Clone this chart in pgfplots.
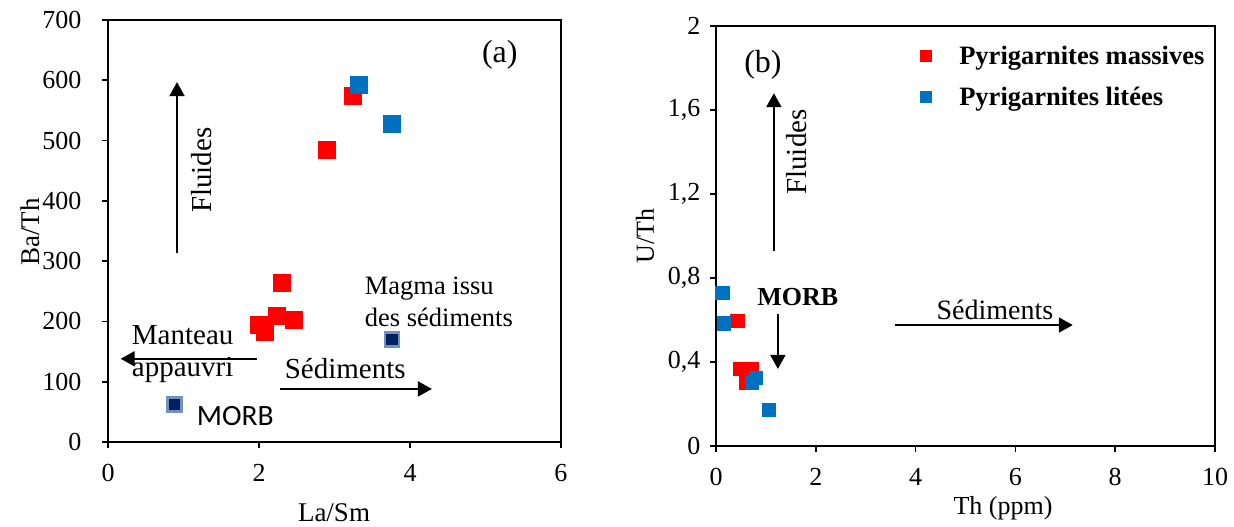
\documentclass[border=0pt]{standalone}
\usepackage{fontspec}
\setmainfont{Liberation Serif}
\newfontfamily\carlito{Carlito}
\usepackage{pgfplots}
\pgfplotsset{compat=1.18}
\usetikzlibrary{arrows.meta}

\definecolor{mred}{RGB}{255,0,0}
\definecolor{mblue}{RGB}{0,112,192}
\definecolor{navy}{RGB}{0,32,96}
\definecolor{navyedge}{RGB}{115,145,190}

\pgfplotsset{
  mystyle/.style={
    scale only axis, clip=false,
    tick align=outside, tick pos=left,
    major tick length=6pt,
    axis line style={line width=2.2pt},
    every tick/.style={black,line width=1.6pt},
    tick label style={font=\fontsize{26}{30}\selectfont},
    /pgf/number format/assume math mode=true,
    xticklabel style={yshift=-13pt},
    yticklabel style={xshift=-6pt},
  },
}
\tikzset{
  annot/.style={font=\fontsize{29}{34}\selectfont},
  arr/.style={line width=2pt,-{Triangle[width=15pt,length=14pt]}},
}

\begin{document}
\begin{tikzpicture}
\useasboundingbox (0,0) rectangle (1234pt,527pt);

% ---------------- Panel (a) ----------------
\begin{axis}[mystyle, at={(108pt,85pt)}, anchor=south west,
  width=453pt, height=422pt,
  xmin=0, xmax=6, ymin=0, ymax=700,
  xtick={0,2,4,6}, ytick={0,100,...,700},
  yticklabel style={xshift=-11pt}]
\addplot[only marks, mark=square*, mark size=8.5pt,
  mark options={draw=mred, fill=mred, line width=0pt}]
  coordinates {(2.0,194) (2.08,183) (2.24,209) (2.46,203) (2.31,264) (2.9,485) (3.25,574)};
\addplot[only marks, mark=square*, mark size=8.5pt,
  mark options={draw=mblue, fill=mblue, line width=0pt}]
  coordinates {(3.32,592) (3.76,528)};
\addplot[only marks, mark=square*, mark size=7pt,
  mark options={draw=navyedge, fill=navy, line width=2.5pt}]
  coordinates {(0.88,62.5) (3.76,170)};

\node[font=\fontsize{32}{36}\selectfont] at (axis cs:5.19,642) {(a)};
\draw[arr] (axis cs:0.914,313) -- (axis cs:0.914,597);
\node[annot, rotate=90] at (axis cs:1.24,451) {Fluides};
\node[annot, anchor=base west, inner sep=0pt] at (axis cs:0.314,161) {Manteau};
\node[annot, anchor=base west, inner sep=0pt] at (axis cs:0.314,108) {appauvri};
\draw[arr] (axis cs:1.97,138) -- (axis cs:0.168,138);
\node[annot, anchor=base west, inner sep=0pt] at (axis cs:2.34,106) {Sédiments};
\draw[arr] (axis cs:2.28,88) -- (axis cs:4.29,88);
\node[font=\fontsize{26.5}{31}\selectfont, anchor=base west, inner sep=0pt] at (axis cs:3.40,244) {Magma issu};
\node[font=\fontsize{26.5}{31}\selectfont, anchor=base west, inner sep=0pt] at (axis cs:3.40,191) {des sédiments};
\node[font=\carlito\fontsize{29.5}{34}\selectfont, anchor=base west, inner sep=0pt] at (axis cs:1.175,28) {MORB};
\end{axis}

% ---------------- Panel (b) ----------------
\begin{axis}[mystyle, at={(716pt,81pt)}, anchor=south west,
  width=499pt, height=420pt,
  xmin=0, xmax=10, ymin=0, ymax=2,
  xtick={0,2,4,6,8,10}, ytick={0,0.4,0.8,1.2,1.6,2},
  yticklabels={0,{0,4},{0,8},{1,2},{1,6},2},
  legend style={at={(0.403,0.962)}, anchor=north west, draw=none, fill=none,
    font=\bfseries\fontsize{26.5}{31}\selectfont, row sep=17pt, column sep=26pt,
    nodes={inner sep=2pt}},
  legend cell align=left,
  legend image post style={mark size=5.5pt}]
\addplot[only marks, mark=square*, mark size=6.7pt,
  mark options={draw=mred, fill=mred, line width=0pt}]
  coordinates {(0.43,0.595) (0.48,0.367) (0.72,0.367) (0.60,0.30)};
\addlegendentry{Pyrigarnites massives}
\addplot[only marks, mark=square*, mark size=6.7pt,
  mark options={draw=mblue, fill=mblue, line width=0pt}]
  coordinates {(0.13,0.728) (0.16,0.583) (0.72,0.30) (0.80,0.325) (1.06,0.171)};
\addlegendentry{Pyrigarnites litées}

\node[font=\fontsize{32}{36}\selectfont] at (axis cs:0.94,1.814) {(b)};
\draw[arr] (axis cs:1.16,0.93) -- (axis cs:1.16,1.68);
\node[annot, rotate=90] at (axis cs:1.62,1.40) {Fluides};
\node[font=\bfseries\fontsize{26}{30}\selectfont] at (axis cs:1.64,0.711) {MORB};
\draw[arr] (axis cs:1.24,0.629) -- (axis cs:1.24,0.367);
\node[font=\fontsize{28}{33}\selectfont] at (axis cs:5.59,0.648) {Sédiments};
\draw[arr] (axis cs:3.59,0.576) -- (axis cs:7.15,0.576);
\end{axis}

% axis labels
\node[font=\fontsize{27}{31}\selectfont] at (334pt,14pt) {La/Sm};
\node[font=\fontsize{27}{31}\selectfont, rotate=90] at (30pt,295pt) {Ba/Th};
\node[font=\fontsize{26}{30}\selectfont] at (1003pt,19pt) {Th (ppm)};
\node[font=\fontsize{26}{30}\selectfont, rotate=90] at (645pt,291pt) {U/Th};
\end{tikzpicture}
\end{document}
